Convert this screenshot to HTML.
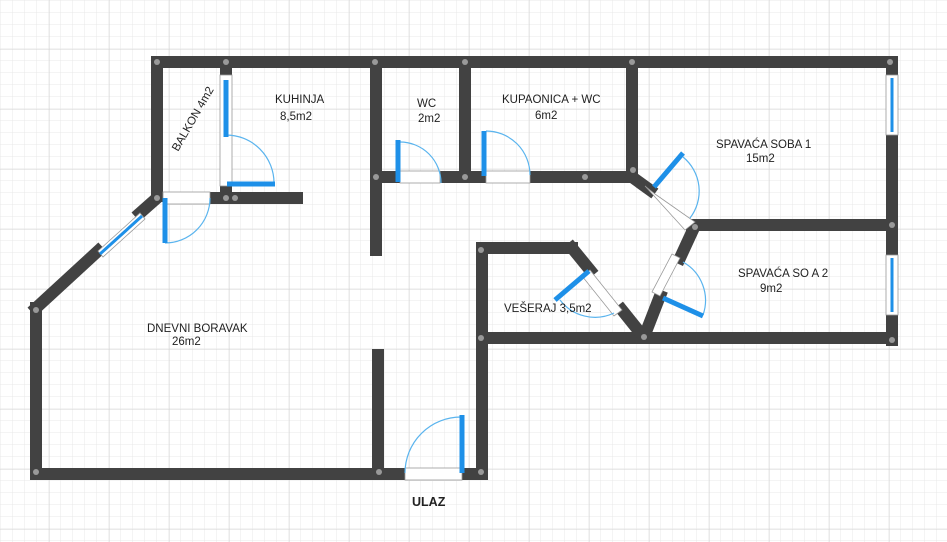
<!DOCTYPE html>
<html><head><meta charset="utf-8"><style>
html,body{margin:0;padding:0;background:#fff;}
svg{display:block;}
text{font-family:"Liberation Sans",sans-serif;font-size:11.5px;fill:#222;}
</style></head><body>
<svg width="947" height="542" viewBox="0 0 947 542" xmlns="http://www.w3.org/2000/svg">
<defs>
<pattern id="fine" width="12" height="12" patternUnits="userSpaceOnUse" x="1" y="1">
<path d="M12 0V12M0 12H12" fill="none" stroke="#e8e8e8" stroke-width="1"/>
</pattern>
<pattern id="major" width="60" height="60" patternUnits="userSpaceOnUse" x="49" y="49">
<path d="M0 0V60M0 0H60" fill="none" stroke="#d4d4d4" stroke-width="1"/>
</pattern>
</defs>
<rect width="947" height="542" fill="#fff"/>
<rect width="947" height="542" fill="url(#fine)"/>
<rect width="947" height="542" fill="url(#major)"/>

<g stroke="#424242" stroke-width="12" fill="none" stroke-linecap="square">
<path d="M157 62H890"/>
<path d="M157 62V196"/>
<path d="M226 62V75"/>
<path d="M226 186V196"/>
<path d="M210 198H303" stroke-linecap="butt"/>
<path d="M157 198L140 213"/>
<path d="M98 251L36 308"/>
<path d="M36 308V474H400"/>
<path d="M465 474H482V248H572"/>
<path d="M378 355V474"/>
<path d="M376 62V250"/>
<path d="M376 177H400"/>
<path d="M440 177H486"/>
<path d="M465 62V177"/>
<path d="M530 177H632V62"/>
<path d="M632 177L650 190"/>
<path d="M692 225H892"/>
<path d="M892 62V75"/>
<path d="M892 135V255"/>
<path d="M892 315V340"/>
<path d="M482 338H892"/>
<path d="M572 248L590 270"/>
<path d="M622 310L642 335"/>
<path d="M692 232L680 258"/>
<path d="M660 296L646 332"/>
</g>

<g fill="#fff" stroke="#999" stroke-width="0.8">
<rect x="163" y="192" width="47" height="12"/>
<rect x="220" y="75" width="12" height="111"/>
<rect x="400" y="171" width="40" height="12"/>
<rect x="486" y="171" width="44" height="12"/>
<rect x="405" y="468" width="57" height="12"/>
<rect x="886" y="75" width="12" height="60"/>
<rect x="886" y="255" width="12" height="60"/>
</g>
<polygon points="98,251 140,213 145,219 103,257" fill="#fff" stroke="#999" stroke-width="0.8"/>
<line x1="100" y1="254" x2="142" y2="216" stroke="#1e90e8" stroke-width="3"/>
<line x1="892" y1="78" x2="892" y2="132" stroke="#1e90e8" stroke-width="3"/>
<line x1="892" y1="258" x2="892" y2="312" stroke="#1e90e8" stroke-width="3"/>
<polygon points="645,186 655,194 695,222 685,230" fill="#fff" stroke="#999" stroke-width="0.8"/>
<polygon points="590,270 622,310 614,316 582,276" fill="#fff" stroke="#999" stroke-width="0.8"/>
<polygon points="680,258 660,296 652,292 672,254" fill="#fff" stroke="#999" stroke-width="0.8"/>

<g fill="none" stroke="#5ab4ee" stroke-width="1.2">
<path d="M226 135A48 48 0 0 1 274 183"/>
<path d="M165 243A45 45 0 0 0 210 198"/>
<path d="M400 142A41 41 0 0 1 441 183"/>
<path d="M486 131A44 44 0 0 1 530 175"/>
<path d="M461 417A56 56 0 0 0 405 473"/>
<path d="M683 157A44 44 0 0 1 690 218"/>
<path d="M683 262A44 44 0 0 1 703 315"/>
<path d="M560 300A44 44 0 0 0 614 313"/>
</g>
<g stroke="#1e90e8" stroke-width="5" stroke-linecap="butt">
<line x1="226" y1="80" x2="226" y2="137"/>
<line x1="227" y1="184" x2="275" y2="184"/>
<line x1="165" y1="198" x2="165" y2="243"/>
<line x1="398" y1="140" x2="398" y2="182"/>
<line x1="484" y1="131" x2="484" y2="176"/>
<line x1="462" y1="415" x2="462" y2="473"/>
<line x1="654" y1="187" x2="683" y2="153"/>
<line x1="663" y1="298" x2="703" y2="316"/>
<line x1="555" y1="300" x2="589" y2="271"/>
</g>

<g fill="#999">
<circle cx="157" cy="62" r="3"/><circle cx="226" cy="62" r="3"/><circle cx="375" cy="62" r="3"/><circle cx="465" cy="62" r="3"/><circle cx="632" cy="62" r="3"/><circle cx="890" cy="62" r="3"/>
<circle cx="157" cy="198" r="3"/><circle cx="226" cy="198" r="3"/><circle cx="235" cy="198" r="3"/>
<circle cx="36" cy="310" r="3"/><circle cx="36" cy="472" r="3"/><circle cx="379" cy="472" r="3"/><circle cx="481" cy="472" r="3"/>
<circle cx="376" cy="177" r="3"/><circle cx="465" cy="177" r="3"/><circle cx="585" cy="177" r="3"/><circle cx="633" cy="170" r="3"/>
<circle cx="695" cy="227" r="3"/><circle cx="892" cy="225" r="3"/><circle cx="892" cy="340" r="3"/>
<circle cx="481" cy="250" r="3"/><circle cx="481" cy="338" r="3"/><circle cx="644" cy="337" r="3"/>
</g>

<text x="275" y="103">KUHINJA</text>
<text x="280" y="120">8,5m2</text>
<text x="417" y="107">WC</text>
<text x="418" y="122">2m2</text>
<text x="502" y="103">KUPAONICA + WC</text>
<text x="535" y="119">6m2</text>
<text x="716" y="148">SPAVAĆA SOBA 1</text>
<text x="746" y="162">15m2</text>
<text x="738" y="277">SPAVAĆA SO A 2</text>
<text x="760" y="292">9m2</text>
<text x="504" y="312">VEŠERAJ  3,5m2</text>
<text x="147" y="332">DNEVNI BORAVAK</text>
<text x="172" y="345">26m2</text>
<text x="178" y="152" transform="rotate(-60 178 152)">BALKON 4m2</text>
<text x="412" y="506" style="font-weight:bold;font-size:12.5px">ULAZ</text>
</svg>
</body></html>
